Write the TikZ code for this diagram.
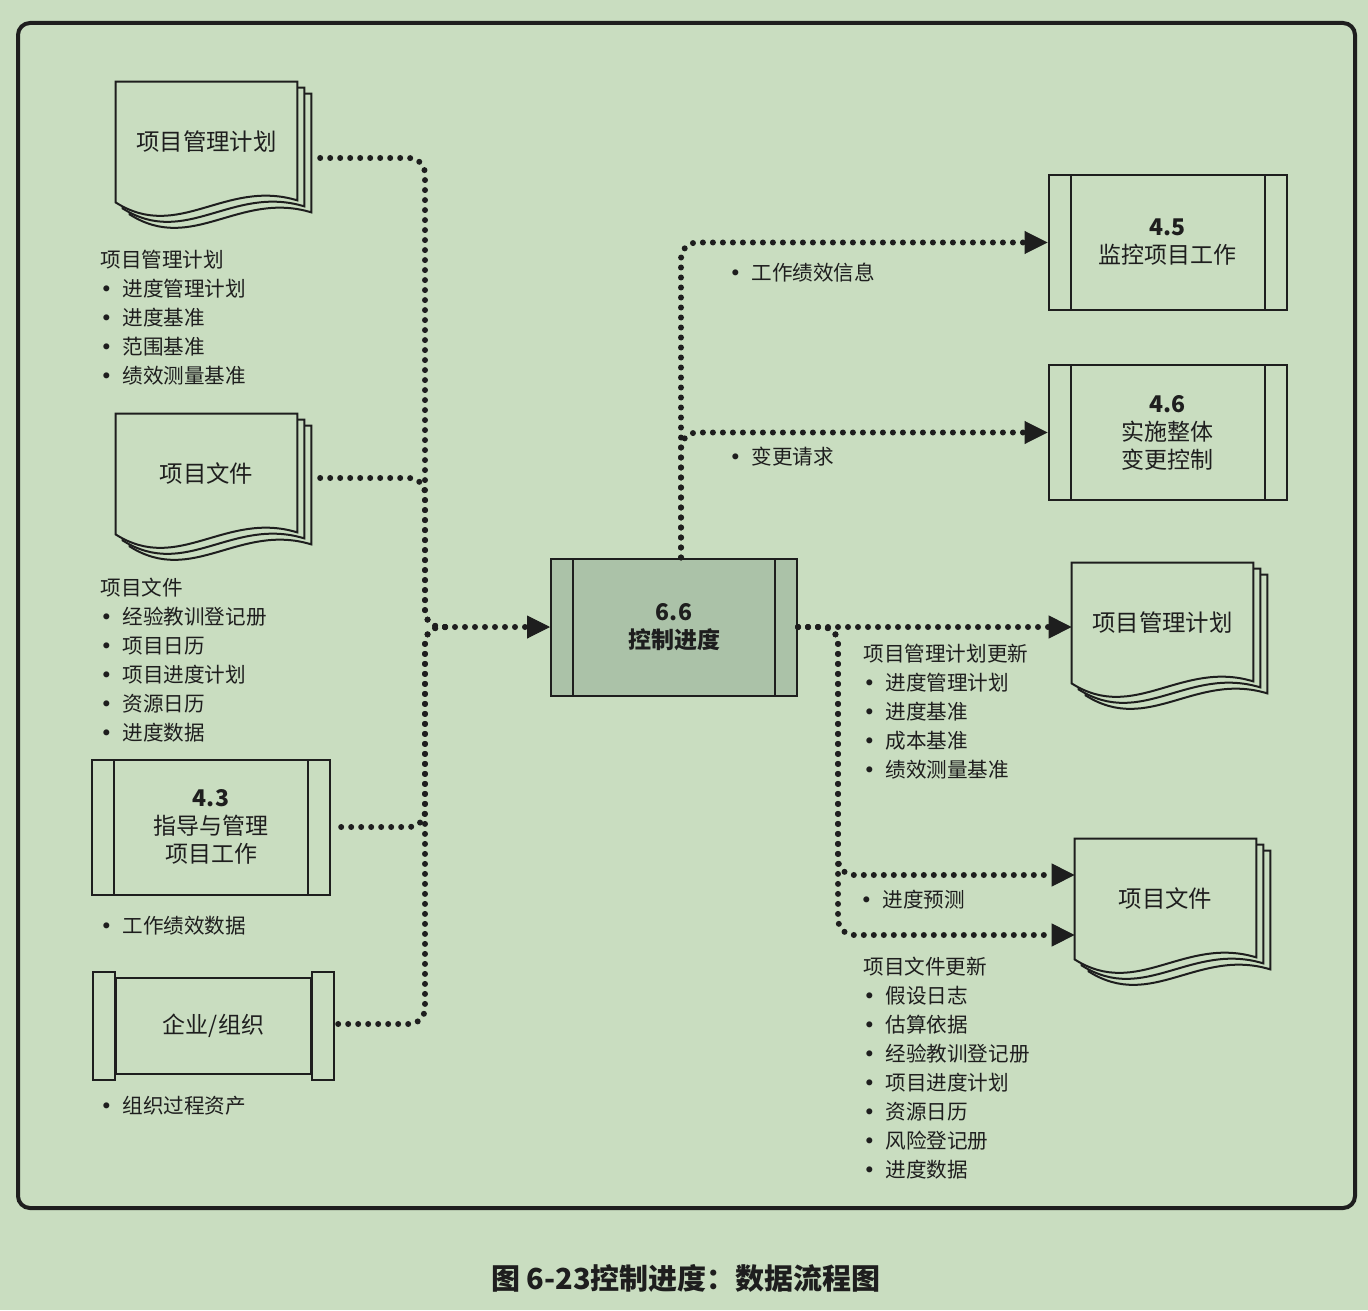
\documentclass[tikz,border=0pt]{standalone}
\usepackage{fontspec}
\setmainfont{Noto Sans CJK SC}
\newfontfamily\dotfont{DejaVu Sans}
\usetikzlibrary{arrows.meta}
\usetikzlibrary{calc}

\definecolor{bggreen}{HTML}{C9DDC0}
\definecolor{procgreen}{HTML}{ABC2A8}
\definecolor{ink}{HTML}{1E1E1E}

\pgfdeclarelayer{back}
\pgfdeclarelayer{pages}
\pgfsetlayers{back,pages,main}

\newcommand\bul{\hspace*{3pt}\makebox[0pt]{\dotfont •}\hspace*{8pt}}
\newcommand\docpages[1]{%
  \begin{pgfonlayer}{pages}
    \foreach \pg in {2,1,0}{
      \filldraw[page] ([shift={(7*\pg,6*\pg)}]#1.north west)
        -- ([shift={(7*\pg,6*\pg)}]#1.north east)
        -- ([shift={(7*\pg,6*\pg-2)}]#1.south east)
        .. controls +(-72,-22) and +(63,40) .. ([shift={(7*\pg,6*\pg)}]#1.south west)
        -- cycle;
    }
  \end{pgfonlayer}%
}

\begin{document}
\begin{tikzpicture}[
            x=0.5pt,
            y=-0.5pt,
            page/.style={
                draw=ink,
                line width=1pt,
                fill=bggreen
            },
            docpage/.style={
                minimum width=90.5pt,
                minimum height=60pt,
                inner sep=0pt,
                text=ink,
                font=\fontsize{11.7pt}{14pt}\selectfont
            },
            proc/.style={
                draw=ink,
                line width=1pt,
                fill=bggreen,
                minimum width=119pt,
                minimum height=67.5pt,
                inner sep=0pt,
                align=center,
                text=ink,
                font=\fontsize{11.5pt}{14pt}\selectfont,
                path picture={
                    \draw[draw=ink, line width=1pt]
                        ([xshift=11pt]path picture bounding box.north west) -- ([xshift=11pt]path picture bounding box.south west)
                        ([xshift=-11pt]path picture bounding box.north east) -- ([xshift=-11pt]path picture bounding box.south east);
                }
            },
            orgbox/.style={
                draw=ink,
                line width=1pt,
                fill=bggreen,
                minimum width=97.5pt,
                minimum height=48pt,
                inner sep=0pt,
                text=ink,
                font=\fontsize{11.5pt}{14pt}\selectfont
            },
            lab/.style={
                anchor=north west,
                inner sep=0pt,
                align=left,
                text=ink,
                font=\fontsize{10.3pt}{14.5pt}\selectfont
            },
            flow/.style={
                draw=ink,
                line width=3pt,
                line cap=round,
                dash pattern=on 0pt off 5pt,
                rounded corners=8pt
            },
            arr/.style={
                -{Triangle[length=11.5pt,width=11.5pt,line width=0.5pt]}
            }
        ]

            % Background and frame
            \begin{pgfonlayer}{back}
                \fill[bggreen] (0,0) rectangle (1368,1310);
            \end{pgfonlayer}
            \useasboundingbox (0,0) rectangle (1368,1310);
            \draw[draw=ink, line width=2pt, rounded corners=6pt] (18,23) rectangle (1355,1208);

            % Inputs
            \node[docpage] (dA) at (206.5,142) {项目管理计划};
            \docpages{dA}
            \node[docpage] (dB) at (206.5,474) {项目文件};
            \docpages{dB}
            \node[proc] (p43) at (211,827) {{\bfseries 4.3}\\指导与管理\\项目工作};
            \node[orgbox] (org) at (213.5,1026) {企业/组织};
            \draw[draw=ink, line width=1pt, fill=bggreen] ([yshift=2.5pt]org.north west) rectangle ([xshift=-11pt,yshift=-2.5pt]org.south west);
            \draw[draw=ink, line width=1pt, fill=bggreen] ([yshift=2.5pt]org.north east) rectangle ([xshift=11pt,yshift=-2.5pt]org.south east);

            % Process
            \node[proc, fill=procgreen, minimum width=123pt, minimum height=68.5pt] (cc) at (674,627) {\bfseries 6.6\\\bfseries 控制进度};

            % Outputs
            \node[proc] (p45) at (1167.5,242.5) {{\bfseries 4.5}\\监控项目工作};
            \node[proc] (p46) at (1167.5,432.5) {{\bfseries 4.6}\\实施整体\\变更控制};
            \node[docpage] (dC) at (1162.5,623) {项目管理计划};
            \docpages{dC}
            \node[docpage] (dD) at (1165.5,899) {项目文件};
            \docpages{dD}

            % Input lists
            \node[lab] (lA) at (100,250) {项目管理计划\\\bul 进度管理计划\\\bul 进度基准\\\bul 范围基准\\\bul 绩效测量基准};
            \node[lab] (lB) at (100,578) {项目文件\\\bul 经验教训登记册\\\bul 项目日历\\\bul 项目进度计划\\\bul 资源日历\\\bul 进度数据};
            \node[lab] (l43) at (100,916) {\bul 工作绩效数据};
            \node[lab] (lorg) at (100,1096) {\bul 组织过程资产};

            % Output lists
            \node[lab] (l45) at (729,263) {\bul 工作绩效信息};
            \node[lab] (l46) at (729,447) {\bul 变更请求};
            \node[lab] (lC) at (863,644) {项目管理计划更新\\\bul 进度管理计划\\\bul 进度基准\\\bul 成本基准\\\bul 绩效测量基准};
            \node[lab] (lD1) at (860,890) {\bul 进度预测};
            \node[lab] (lD2) at (863,957) {项目文件更新\\\bul 假设日志\\\bul 估算依据\\\bul 经验教训登记册\\\bul 项目进度计划\\\bul 资源日历\\\bul 风险登记册\\\bul 进度数据};

            % Flows in
            \coordinate (inJ) at (445,627);
            \coordinate (busL) at (425,627);
            \draw[flow] (inJ) -- (busL) |- ([xshift=7pt,yshift=-8pt]dA.east);
            \draw[flow] (inJ) -- (busL) |- ([xshift=7pt,yshift=-2pt]dB.east);
            \draw[flow] (inJ) -- (busL) |- ([xshift=1.5pt]p43.east);
            \draw[flow] (inJ) -- (busL) |- ([xshift=11pt,yshift=1pt]org.east);
            \draw[flow, arr] (inJ) -- (cc.west);

            % Flows out
            \coordinate (busR) at (838,627);
            \draw[flow, arr] (cc.east) -- (cc.east -| dC.west);
            \draw[flow, arr] (cc.east) -- (busR) |- ([yshift=12pt]dD.west);
            \draw[flow, arr] (cc.east) -- (busR) |- ([yshift=-18pt]dD.west);
            \draw[flow, arr] ([xshift=3.5pt]cc.north) |- (p45.west);
            \draw[flow, arr] ([xshift=3.5pt]cc.north) |- (p46.west);

            % Caption
            \node[text=ink, font=\bfseries\fontsize{14.5pt}{16pt}\selectfont] (cap) at (686,1278) {图 6-23控制进度：数据流程图};

        \end{tikzpicture}
\end{document}
